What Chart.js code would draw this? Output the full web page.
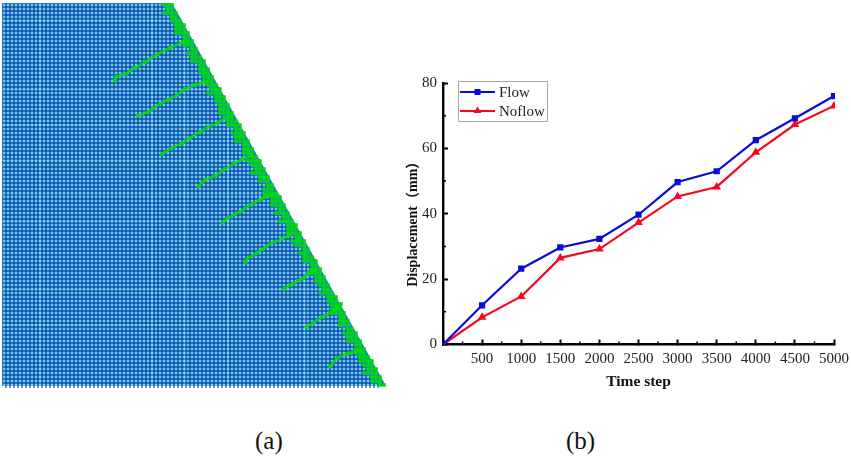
<!DOCTYPE html>
<html lang="en">
<head>
<meta charset="UTF-8">
<title>Chart</title>
<script src="https://cdn.jsdelivr.net/npm/chart.js"></script>
<style>
    html, body { margin: 0; padding: 0; background: #fff; }
    body { width: 851px; height: 457px; position: relative; overflow: hidden; }
    canvas { position: absolute; }
    #modelChart { left: 0; top: 0; }
    #dispChart { left: 400px; top: 61px; }
    .caption { position: absolute; top: 427px; font: 25px "Liberation Serif", serif; color: #111; }
</style>
</head>
<body>
<canvas id="modelChart" width="400" height="400"></canvas>
<canvas id="dispChart" width="451" height="340"></canvas>
<div class="caption" style="left:255px">(a)</div>
<div class="caption" style="left:566px">(b)</div>

<script>
// panel (b)
const timeSteps = [0, 500, 1000, 1500, 2000, 2500, 3000, 3500, 4000, 4500, 5000];
const flow = [0, 12, 23.2, 29.7, 32.3, 39.7, 49.7, 53, 62.5, 69.2, 76];
const noflow = [0, 8.3, 14.7, 26.5, 29.2, 37.3, 45.3, 48.2, 58.8, 67.3, 73];
const xMinorTicks = [250, 750, 1250, 1750, 2250, 2750, 3250, 3750, 4250, 4750];
const yMinorTicks = [10, 30, 50, 70];

// panel (a), values are in picture units
const modelOutline = [[2, 3], [172, 3], [386, 386], [2, 386]];
const lightCols = [40, 152, 185, 228, 305];
const lightRows = [20, 90, 125, 160, 195, 222, 290, 325];
const bandWidths = [13, 9, 15, 11, 14, 9, 12, 15, 10, 13];
const cracks = [
    [[115, 81], [116, 77], [125, 74], [135, 68], [145, 62], [158, 54], [170, 48], [183, 42]],
    [[138, 116], [148, 112], [160, 104], [168, 100], [177, 95], [185, 89], [195, 85], [205, 82]],
    [[162, 154], [172, 148], [182, 143], [190, 138], [200, 132], [208, 127], [218, 123], [225, 118]],
    [[199, 186], [205, 180], [215, 176], [225, 169], [235, 163], [243, 159], [252, 155]],
    [[223, 223], [228, 218], [240, 212], [250, 205], [260, 200], [265, 197], [272, 195]],
    [[245, 262], [248, 258], [257, 253], [263, 249], [272, 243], [282, 239], [290, 235]],
    [[284, 289], [290, 285], [298, 281], [305, 277], [310, 272], [316, 270]],
    [[307, 327], [313, 323], [322, 317], [330, 313], [337, 308], [341, 304]],
    [[330, 366], [337, 358], [347, 354], [350, 353], [360, 350]]
];

const GREEN = '#00dc0a';
const hypX = y => 172 + (y - 3) * 214 / 383;

// the mesh itself: one cell every 4 units, kept inside the outline
const meshWhite = [], meshDark = [], meshBand = [];
for (let row = 0; row < 96; row++) {
    const y = 5 + row * 4;
    for (let col = 0; col < 96; col++) {
        const x = 4 + col * 4;
        const edge = hypX(y);
        if (x > edge) continue;
        if (x > edge - bandWidths[row % bandWidths.length]) {
            meshBand.push({ x, y });
        } else {
            meshWhite.push({ x, y });
            meshDark.push({ x: x + 2, y: y + 2 });
        }
    }
}

const scatterSet = (data, color, radius, order) => ({
    data, order,
    showLine: false,
    pointStyle: 'rect',
    pointRadius: radius,
    pointBorderWidth: 0,
    pointBackgroundColor: color
});

const modelSets = [];
modelSets.push({
    data: modelOutline.map(p => ({ x: p[0], y: p[1] })),
    showLine: true, fill: 'shape', tension: 0,
    backgroundColor: '#1878cc', borderWidth: 0, pointRadius: 0, order: 9
});
lightCols.forEach(x => modelSets.push({
    data: [{ x, y: Math.max(3, 3 + (x - 172) * 383 / 214) }, { x, y: 386 }],
    showLine: true, borderColor: '#4fb4ee', borderWidth: 1.2, pointRadius: 0, order: 8
}));
lightRows.forEach(y => modelSets.push({
    data: [{ x: 2, y }, { x: hypX(y), y }],
    showLine: true, borderColor: '#4fb4ee', borderWidth: 1.2, pointRadius: 0, order: 8
}));
modelSets.push(scatterSet(meshDark, '#0f3285', 1.0, 7));
modelSets.push(scatterSet(meshWhite, '#eaf0f4', 1.1, 6));
modelSets.push(scatterSet(meshBand, GREEN, 2.5, 5));
cracks.forEach(c => modelSets.push({
    data: c.map(p => ({ x: p[0], y: p[1] })),
    showLine: true, tension: 0,
    borderColor: GREEN, borderWidth: 2.4,
    pointStyle: 'rect', pointRadius: 2.6, pointBorderWidth: 0, pointBackgroundColor: GREEN,
    order: 4
}));

new Chart(document.getElementById('modelChart'), {
    type: 'scatter',
    data: { datasets: modelSets },
    options: {
        responsive: false,
        animation: false,
        layout: { padding: 0, autoPadding: false },
        plugins: { legend: { display: false }, tooltip: { enabled: false } },
        scales: {
            x: { type: 'linear', display: false, min: 0, max: 400 },
            y: { type: 'linear', display: false, min: 0, max: 400, reverse: true }
        }
    }
});

// inward minor ticks and the legend box sit on top of the plot
const dispExtras = {
    id: 'dispExtras',
    afterDraw(chart) {
        const ctx = chart.ctx, xs = chart.scales.x, ys = chart.scales.y;
        ctx.save();
        ctx.strokeStyle = '#000';
        ctx.lineWidth = 1.5;
        ctx.beginPath();
        xMinorTicks.forEach(v => {
            const px = xs.getPixelForValue(v);
            ctx.moveTo(px, ys.bottom);
            ctx.lineTo(px, ys.bottom - 3);
        });
        yMinorTicks.forEach(v => {
            const py = ys.getPixelForValue(v);
            ctx.moveTo(xs.left, py);
            ctx.lineTo(xs.left + 3, py);
        });
        ctx.stroke();

        // legend
        ctx.strokeStyle = '#a8a8a8';
        ctx.lineWidth = 1;
        ctx.strokeRect(58.5, 20.5, 89, 40);
        chart.data.datasets.forEach((ds, i) => {
            const y = 31 + i * 19;
            ctx.strokeStyle = ds.borderColor;
            ctx.lineWidth = 2.2;
            ctx.beginPath();
            ctx.moveTo(60, y);
            ctx.lineTo(95, y);
            ctx.stroke();
            ctx.fillStyle = ds.borderColor;
            ctx.beginPath();
            if (ds.pointStyle === 'rect') {
                ctx.rect(74.5, y - 3, 6, 6);
            } else {
                ctx.moveTo(77.5, y - 4.5);
                ctx.lineTo(81.5, y + 2);
                ctx.lineTo(73.5, y + 2);
                ctx.closePath();
            }
            ctx.fill();
            ctx.fillStyle = '#222';
            ctx.font = '15px "Liberation Serif"';
            ctx.textAlign = 'left';
            ctx.textBaseline = 'middle';
            ctx.fillText(ds.label, 99, y + 1);
        });
        ctx.restore();
    }
};

const lineSet = (label, data, color, style, radius) => ({
    label, data,
    borderColor: color,
    backgroundColor: color,
    borderWidth: 2.2,
    tension: 0,
    pointStyle: style,
    pointRadius: c => c.dataIndex === 0 ? 0 : radius,
    pointBorderWidth: 0,
    clip: 1
});

new Chart(document.getElementById('dispChart'), {
    type: 'line',
    data: {
        datasets: [
            lineSet('Flow', timeSteps.map((t, i) => ({ x: t, y: flow[i] })), '#0a0adf', 'rect', 4.4),
            lineSet('Noflow', timeSteps.map((t, i) => ({ x: t, y: noflow[i] })), '#f5081c', 'triangle', 5)
        ]
    },
    options: {
        responsive: false,
        animation: false,
        layout: { padding: { top: 22, right: 17, left: 0, bottom: 0 }, autoPadding: false },
        plugins: { legend: { display: false }, tooltip: { enabled: false } },
        scales: {
            x: {
                type: 'linear',
                min: 0, max: 5000,
                afterFit: s => { s.height = 56.5; s.paddingRight = 0; },
                border: { color: '#000', width: 2.4 },
                grid: { drawOnChartArea: false, tickLength: -5, tickWidth: 2, tickColor: '#000' },
                ticks: {
                    stepSize: 500,
                    autoSkip: false,
                    maxRotation: 0,
                    padding: 11,
                    color: '#222',
                    font: { family: 'Liberation Serif', size: 15 },
                    callback: v => v === 0 ? '' : v
                },
                title: {
                    display: true,
                    text: 'Time step',
                    color: '#111',
                    font: { family: 'Liberation Serif', size: 15.5, weight: 'bold' },
                    padding: { top: 0, bottom: 10 }
                }
            },
            y: {
                min: 0, max: 80,
                afterFit: s => { s.width = 43; },
                border: { color: '#000', width: 2.4 },
                grid: { drawOnChartArea: false, tickLength: -5, tickWidth: 2, tickColor: '#000' },
                ticks: {
                    stepSize: 20,
                    padding: 11,
                    color: '#222',
                    font: { family: 'Liberation Serif', size: 15 }
                },
                title: {
                    display: true,
                    text: 'Displacement（mm）    ',
                    color: '#111',
                    font: { family: '"Liberation Serif", "Noto Sans CJK SC"', size: 14, weight: 'bold' },
                    padding: { top: 5, bottom: 0 }
                }
            }
        }
    },
    plugins: [dispExtras]
});
</script>
</body>
</html>
